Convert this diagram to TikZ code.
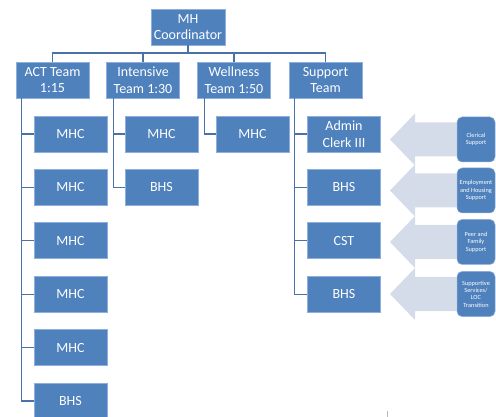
\documentclass[tikz,border=0pt]{standalone}
\usepackage{fontspec}
\setmainfont{Carlito}
\begin{document}
\definecolor{boxblue}{HTML}{4F81BD}
\definecolor{boxedge}{HTML}{8EAEDB}
\definecolor{linkblue}{HTML}{4A72A8}
\definecolor{arrowfill}{HTML}{D5DCE9}
\begin{tikzpicture}[x=1pt,y=-1pt,
  role/.style={rectangle, fill=boxblue, draw=boxedge, line width=0.6pt,
    text=white, font=\fontsize{14}{16.5}\selectfont, align=center,
    minimum width=73pt, minimum height=36pt, inner sep=0pt},
  service/.style={rectangle, rounded corners=5pt, fill=boxblue, draw=boxedge,
    line width=0.5pt, text=white, font=\fontsize{6.3}{7.4}\selectfont,
    align=center, minimum width=38pt, minimum height=45pt, inner sep=0pt},
  link/.style={draw=linkblue, line width=1.3pt},
  feed/.style={fill=arrowfill, draw=none}]
\useasboundingbox (0,0) rectangle (496,417);

% top of the chart
\node[role, minimum width=74pt] (mh) at (188,27) {MH\\Coordinator};
\node[role] (act)  at (52.5,80) {ACT Team\\1:15};
\node[role] (int)  at (143,80)  {Intensive\\Team 1:30};
\node[role] (well) at (234,80)  {Wellness\\Team 1:50};
\node[role] (sup)  at (325.5,80) {Support\\Team};

\coordinate (bus) at (188,53);
\draw[link] (mh.south) -- (bus);
\foreach \t in {act,int,well,sup}
  \draw[link] (\t.north) |- (bus);

% ACT team members
\node[role] (a1) at (70.5,134)   {MHC};
\node[role] (a2) at (70.5,187.4) {MHC};
\node[role] (a3) at (70.5,240.8) {MHC};
\node[role] (a4) at (70.5,294.2) {MHC};
\node[role] (a5) at (70.5,347.6) {MHC};
\node[role] (a6) at (70.5,401)   {BHS};
\foreach \c in {a1,a2,a3,a4,a5,a6}
  \draw[link] ([xshift=6pt]act.south west) |- (\c.west);

% Intensive team members
\node[role] (i1) at (161.5,134)   {MHC};
\node[role] (i2) at (161.5,187.4) {BHS};
\foreach \c in {i1,i2}
  \draw[link] ([xshift=7pt]int.south west) |- (\c.west);

% Wellness team member
\node[role] (w1) at (252.5,134) {MHC};
\draw[link] ([xshift=7pt]well.south west) |- (w1.west);

% Support team members
\node[role] (s1) at (344,134)   {Admin\\Clerk III};
\node[role] (s2) at (344,187.4) {BHS};
\node[role] (s3) at (344,240.8) {CST};
\node[role] (s4) at (344,294.2) {BHS};
\foreach \c in {s1,s2,s3,s4}
  \draw[link] ([xshift=6pt]sup.south west) |- (\c.west);

% supporting services feeding the support team
\foreach \y/\n/\txt in {139.5/f1/{Clerical\\Support},
                        190.5/f2/{Employment\\and Housing\\Support},
                        242/f3/{Peer and\\Family\\Support},
                        294/f4/{Supportive\\Services/\\LOC\\Transition}}{
  \path[feed] (390,\y) -- (415,\y-26) -- (415,\y-17) -- (462,\y-17)
    -- (462,\y+17) -- (415,\y+17) -- (415,\y+26) -- cycle;
  \node[service] (\n) at (476,\y) {\txt};
}

% small mark at the foot of the page
\draw[gray!55, line width=0.6pt] (387,411) -- (387,417);
\end{tikzpicture}
\end{document}
